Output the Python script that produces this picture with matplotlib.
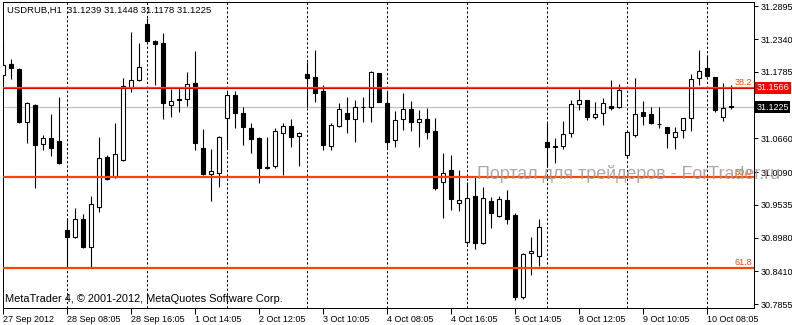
import numpy as np
import matplotlib
matplotlib.use('Agg')
import matplotlib.pyplot as plt
from matplotlib.transforms import blended_transform_factory

# USDRUB H1 bars
opens = [31.1732, 31.1918, 31.1834, 31.0937, 31.1224, 31.0564, 31.0666, 31.0615, 30.9108, 30.8990,
         30.9294, 30.8820, 30.9497, 31.0344, 31.0005, 31.0293, 31.1529, 31.1648, 31.2596, 31.2308,
         31.2274, 31.1224, 31.1326, 31.1326, 31.1597, 31.0496, 31.0056, 31.0073, 31.1004, 31.1394,
         31.1089, 31.0835, 31.0666, 31.0175, 31.0192, 31.0750, 31.0869, 31.0700, 31.1749, 31.1698,
         31.1461, 31.0530, 31.0869, 31.1089, 31.0987, 31.1190, 31.1190, 31.1766, 31.1258, 31.0632,
         31.0987, 31.1157, 31.0937, 31.0987, 31.0784, 30.9921, 31.0124, 30.9565, 30.8905, 30.9684,
         30.8888, 30.9599, 30.9345, 30.9616, 30.9362, 30.7974, 30.8719, 30.8668, 31.0598, 31.0530,
         31.0530, 31.0750, 31.1241, 31.1309, 31.1021, 31.1089, 31.1207, 31.1190, 31.0378, 31.0716,
         31.1106, 31.1072, 31.0903, 31.0852, 31.0683, 31.0801, 31.1004, 31.1681, 31.1851, 31.1698,
         31.1021, 31.1207]
highs = [31.2274, 31.2003, 31.1851, 31.1275, 31.1241, 31.0716, 31.1072, 31.1360, 30.9311, 30.9481,
         30.9379, 30.9684, 31.0683, 31.0378, 31.0920, 31.1681, 31.2460, 31.2274, 31.2697, 31.2325,
         31.2443, 31.1495, 31.1512, 31.1783, 31.2139, 31.0818, 31.0479, 31.0700, 31.1444, 31.1461,
         31.1190, 31.0920, 31.0683, 31.0683, 31.0835, 31.0920, 31.0987, 31.0767, 31.1952, 31.2155,
         31.1563, 31.0920, 31.1258, 31.1360, 31.1309, 31.1360, 31.1800, 31.1766, 31.1444, 31.1123,
         31.1428, 31.1292, 31.1140, 31.1174, 31.1004, 31.0412, 31.0378, 31.0124, 30.9921, 31.0005,
         30.9836, 30.9667, 30.9684, 30.9785, 30.9396, 30.8719, 30.8990, 30.9294, 31.0920, 31.0666,
         31.0953, 31.1309, 31.1495, 31.1315, 31.1275, 31.1343, 31.1648, 31.1580, 31.0772, 31.1681,
         31.1292, 31.1190, 31.1190, 31.0857, 31.0852, 31.1010, 31.1749, 31.2155, 31.2071, 31.1705,
         31.1597, 31.1563]
lows = [31.1648, 31.1665, 31.0920, 31.0581, 30.9819, 31.0462, 31.0361, 31.0225, 30.8482, 30.8973,
        30.8803, 30.8482, 30.9413, 30.9955, 30.9988, 31.0276, 31.1444, 31.1631, 31.2291, 31.1563,
        31.0987, 31.1021, 31.1106, 31.1207, 31.0462, 31.0039, 30.9599, 30.9836, 31.0496, 31.0835,
        31.0547, 31.0412, 30.9904, 31.0141, 31.0158, 31.0039, 31.0513, 31.0192, 31.1190, 31.1275,
        31.0462, 31.0462, 31.0852, 31.0750, 31.0598, 31.0937, 31.0937, 31.1275, 31.0496, 31.0513,
        31.0801, 31.0784, 31.0513, 31.0649, 30.9785, 30.9311, 30.9447, 30.9430, 30.8871, 30.8786,
        30.8871, 30.9142, 30.9328, 30.9210, 30.7923, 30.7940, 30.8346, 30.8499, 31.0175, 31.0242,
        31.0479, 31.0683, 31.1140, 31.0970, 31.0987, 31.0886, 31.1140, 31.1174, 31.0344, 31.0683,
        31.0886, 31.0903, 31.0835, 31.0496, 31.0479, 31.0666, 31.0784, 31.1563, 31.1698, 31.1106,
        31.0953, 31.1157]
closes = [31.1902, 31.1851, 31.0937, 31.1258, 31.0547, 31.0666, 31.0496, 31.0242, 30.8990, 30.9294,
          30.8820, 30.9548, 31.0327, 30.9972, 31.0395, 31.1546, 31.1648, 31.1868, 31.2308, 31.2257,
          31.1258, 31.1292, 31.1309, 31.1580, 31.0581, 31.0056, 31.0107, 31.0683, 31.1394, 31.1089,
          31.0852, 31.0649, 31.0158, 31.0158, 31.0784, 31.0869, 31.0683, 31.0750, 31.1681, 31.1428,
          31.0547, 31.0886, 31.1157, 31.0987, 31.1190, 31.1195, 31.1783, 31.1275, 31.0598, 31.0970,
          31.1157, 31.0937, 31.0987, 31.0767, 30.9819, 31.0073, 30.9633, 30.9616, 30.9650, 30.8888,
          30.9650, 30.9396, 30.9633, 30.9294, 30.7974, 30.8702, 30.8753, 30.9159, 31.0513, 31.0505,
          31.0733, 31.1241, 31.1309, 31.1021, 31.1072, 31.1258, 31.1174, 31.1478, 31.0767, 31.1072,
          31.1038, 31.0920, 31.0895, 31.0750, 31.0767, 31.1004, 31.1665, 31.1800, 31.1715, 31.1140,
          31.1174, 31.1190]

date_labels = ['27 Sep 2012', '28 Sep 08:05', '28 Sep 16:05', '1 Oct 14:05', '2 Oct 12:05',
               '3 Oct 10:05', '4 Oct 08:05', '4 Oct 16:05', '5 Oct 14:05', '8 Oct 12:05',
               '9 Oct 10:05', '10 Oct 08:05']
price_ticks = [31.2895, 31.2340, 31.1785, 31.0660, 31.0090, 30.9535, 30.8980, 30.8410, 30.7855]
price_ticklabels = ['31.2895', '31.2340', '31.1785', '31.0660', '31.0090', '30.9535',
                    '30.8980', '30.8410', '30.7855']
fib_names = ['38.2', '50.0', '61.8']
fib_prices = [31.1517, 31.0000, 30.8470]
line_label = '31.1566'
bid = 31.1185
bid_label = '31.1225'
title = 'USDRUB,H1  31.1239 31.1448 31.1178 31.1225'

W, H = 792, 325
fig = plt.figure(figsize=(W/100., H/100.), dpi=100)
fig.patch.set_facecolor('white')
ax = fig.add_axes([2.7/W, 1-307.7/H, (754-2.7)/W, (307.7-2)/H])
ax.set_facecolor('white')
px = 0.72  # one pixel in points

n = len(opens)
x = np.arange(n)
o = np.array(opens); c = np.array(closes)
h = np.array(highs); l = np.array(lows)
up = c >= o

# bid line and period separators behind the candles
ax.axhline(bid, color='#c0c0c0', lw=1.2*px, zorder=1)
for g in range(8, n, 10):
    ax.axvline(g, color='black', lw=px, ls=(0, (2.2, 2.2)), zorder=1)

ax.vlines(x, l, h, color='black', lw=1.1*px, zorder=2)
ax.bar(x[up], (c-o)[up], bottom=o[up], width=0.5, color='white',
       edgecolor='black', linewidth=1.1*px, zorder=3)
ax.bar(x[~up], (o-c)[~up], bottom=c[~up], width=0.5, color='black',
       edgecolor='black', linewidth=1.1*px, zorder=3)

# fibo levels
for name, p in zip(fib_names, fib_prices):
    ax.axhline(p, color='#ff4500', lw=2.2*px, zorder=4)
    ax.text(0.997, p + 0.0012, name, transform=blended_transform_factory(ax.transAxes, ax.transData),
            ha='right', va='bottom', color='#ff4500', fontsize=6.5, family='Liberation Sans', zorder=6)
ax.axhline(fib_prices[0], color='#e00000', lw=1.0*px, zorder=4)

ax.set_xlim(-0.075, 93.84)
ax.set_ylim(30.7793, 31.2968)

ax.set_xticks(range(0, n, 8))
ax.set_xticklabels(date_labels, ha='left', family='Liberation Sans', fontsize=6.5)
ax.yaxis.tick_right()
ax.set_yticks(price_ticks)
ax.set_yticklabels(price_ticklabels, family='Liberation Sans', fontsize=6.5)
ax.tick_params(axis='x', direction='out', length=4, width=px, pad=1.5)
ax.tick_params(axis='y', direction='out', length=3, width=px, pad=1.5)
for s in ax.spines.values():
    s.set_linewidth(px)
    s.set_color('black')

ytr = blended_transform_factory(ax.transAxes, ax.transData)
ax.text(1.003, fib_prices[0], line_label, transform=ytr, ha='left', va='center', color='white',
        fontsize=6.5, family='Liberation Sans', clip_on=False, zorder=7,
        bbox=dict(facecolor='#ff0000', edgecolor='none', pad=1.2))
ax.text(1.003, bid, bid_label, transform=ytr, ha='left', va='center', color='white',
        fontsize=6.5, family='Liberation Sans', clip_on=False, zorder=7,
        bbox=dict(facecolor='black', edgecolor='none', pad=1.2))

fig.text(7/W, 1-10/H, title, ha='left', va='center', fontsize=6.8, family='Liberation Sans')
fig.text(5/W, 1-299/H, 'MetaTrader 4, \u00a9 2001-2012, MetaQuotes Software Corp.',
         ha='left', va='center', fontsize=7.9, family='Liberation Sans')
fig.text(477/W, 1-174/H, 'Портал для трейдеров - ForTrader.ru', ha='left', va='center',
         fontsize=12.9, family='Liberation Sans', color='#a09898', alpha=0.85, zorder=10)

fig.savefig('out.png', dpi=100)
